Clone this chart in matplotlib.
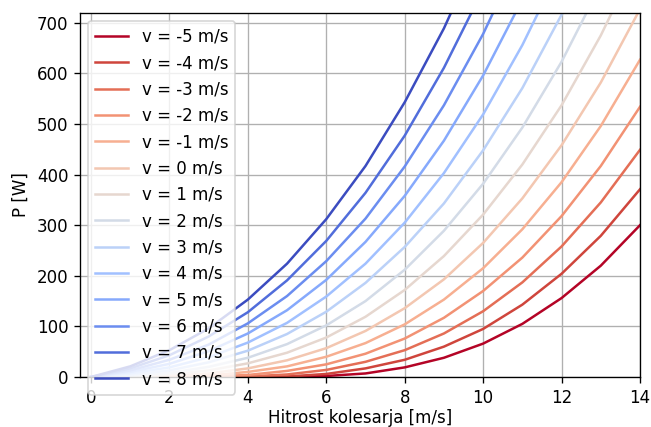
import matplotlib
matplotlib.use("Agg")
import matplotlib.pyplot as plt
import numpy as np

# hitrost kolesarja [m/s]
u = [0, 1, 2, 3, 4, 5, 6, 7, 8, 9, 10, 11, 12, 13, 14]

# hitrost vetra [m/s]
v_wind = [-5, -4, -3, -2, -1, 0, 1, 2, 3, 4, 5, 6, 7, 8]

# moc [W], odcitano s slike (krivulje, ki zapustijo okvir, so odrezane)
P_m5 = [0, 4, 5, 3, 1, 0, 2, 7, 19, 38, 66, 105, 156, 220, 300]
P_m4 = [0, 2, 2, 1, 0, 1, 6, 17, 34, 60, 95, 143, 204, 279, 371]
P_m3 = [0, 1, 1, 0, 1, 5, 14, 30, 53, 86, 130, 187, 258, 345, 449]
P_m2 = [0, 0, 0, 1, 4, 12, 25, 46, 76, 117, 170, 236, 318, 417, 534]
P_m1 = [0, 0, 1, 3, 10, 21, 40, 67, 104, 153, 215, 292, 385, 496, 627]
P_0 = [0, 0, 2, 7, 17, 33, 57, 91, 136, 193, 265, 353, 458, 582, 727]
P_1 = [0, 1, 5, 13, 27, 48, 78, 119, 172, 239, 321, 420, 537, 675, 835]
P_2 = [0, 2, 8, 20, 38, 65, 102, 150, 212, 289, 382, 493, 623, 775]
P_3 = [0, 4, 13, 29, 52, 85, 129, 186, 257, 343, 448, 571, 716, 882]
P_4 = [0, 7, 19, 39, 68, 107, 159, 224, 305, 403, 519, 656, 814]
P_5 = [0, 10, 26, 51, 86, 132, 192, 267, 358, 467, 596, 746]
P_6 = [0, 13, 34, 64, 106, 160, 229, 313, 416, 537, 678, 842]
P_7 = [0, 17, 43, 80, 128, 191, 269, 364, 477, 611, 766]
P_8 = [0, 21, 53, 96, 153, 224, 312, 417, 543, 689, 859]

moci = [P_m5, P_m4, P_m3, P_m2, P_m1, P_0, P_1, P_2, P_3, P_4, P_5, P_6, P_7, P_8]

fig = plt.figure(figsize=(651 / 120, 427 / 120), dpi=120)
ax = fig.add_axes([0.1229, 0.1171, 0.8602, 0.8532])

barve = plt.cm.coolwarm_r(np.linspace(0, 1, len(v_wind)))

for v, P, c in zip(v_wind, moci, barve):
    ax.plot(u[:len(P)], P, color=c, lw=1.5, label="v = %d m/s" % v)

ax.set_xlim(-0.28, 14)
ax.set_ylim(0, 720)
ax.set_xticks(range(0, 15, 2))
ax.set_yticks(range(0, 701, 100))
ax.grid(True)

ax.set_xlabel("Hitrost kolesarja [m/s]", labelpad=1.5)
ax.set_ylabel("P [W]")
ax.legend(loc="upper left")

plt.savefig("out.png", dpi=120)
